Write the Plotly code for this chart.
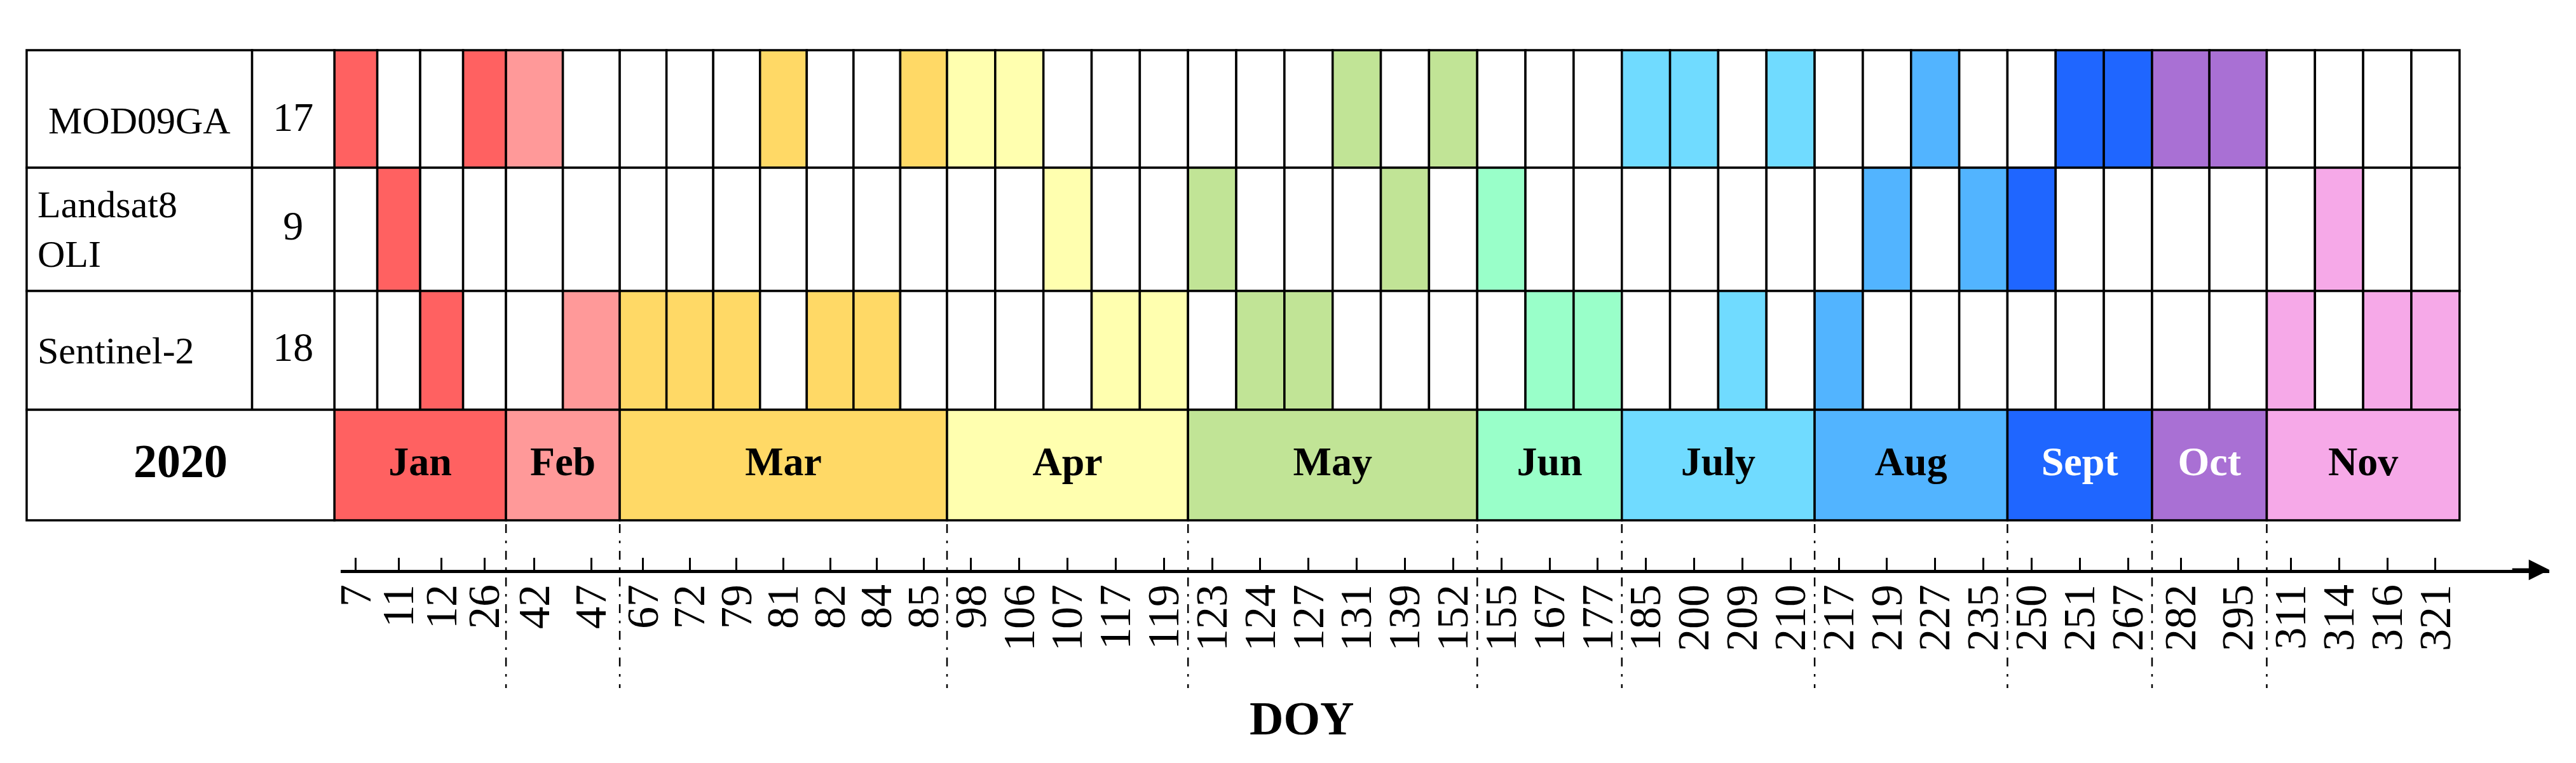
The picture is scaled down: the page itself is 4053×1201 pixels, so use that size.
import plotly.graph_objects as go

# acquisition dates (day of year, 2020) used as columns of the table
doy = [7, 11, 12, 26, 42, 47, 67, 72, 79, 81, 82, 84, 85, 98, 106, 107, 117, 119,
       123, 124, 127, 131, 139, 152, 155, 167, 177, 185, 200, 209, 210, 217, 219,
       227, 235, 250, 251, 267, 282, 295, 311, 314, 316, 321]
months = ['Jan', 'Feb', 'Mar', 'Apr', 'May', 'Jun', 'July', 'Aug', 'Sept', 'Oct', 'Nov']
month_ncols = [4, 2, 7, 5, 6, 3, 4, 4, 3, 2, 4]

sensors = ['MOD09GA', 'Landsat8<br>OLI', 'Sentinel-2']
mod09ga_doy = [7, 26, 42, 81, 85, 98, 106, 131, 152, 185, 200, 210, 227, 251, 267, 282, 295]
landsat8_doy = [11, 107, 123, 139, 155, 219, 235, 250, 314]
sentinel2_doy = [12, 47, 67, 72, 79, 82, 84, 117, 119, 124, 127, 167, 177, 209, 217, 311, 316, 321]
year = '2020'

# ---- styles / geometry ----
month_colors = ['#FF6161', '#FF9999', '#FFD966', '#FFFFAF', '#C1E496', '#99FFC9',
                '#70DBFF', '#52B4FF', '#1F66FF', '#A970D4', '#F6A9E8']
month_text_colors = ['black'] * 8 + ['white', 'white', 'black']
# relative width of one DOY cell in each month (the original table is not uniform)
month_cell_w = [0.89, 1.18, 0.97, 1, 1, 1, 1, 1, 1, 1.19, 1]
# row heights in px, bottom (month row) to top (MOD09GA row)
row_h = [174, 187, 194, 185]
row_text_shift = [0, 0, 0, -18]
FONT = 'Liberation Serif, Times New Roman, serif'
LINE = dict(color='black', width=3.5)
OFF = 8                      # page body margin
W, H = 4053 - OFF, 1201 - OFF
PX_X = 76.12                 # pixels per unit cell width
X0 = 513 - OFF               # left edge of the first DOY cell
Y0 = 819 - OFF               # bottom edge of the table (y axis is in px above it)
LABEL_W = 356 / PX_X         # sensor-name column
COUNT_W = 130 / PX_X         # count column

col_w, col_month = [], []
for m, n, cw in zip(months, month_ncols, month_cell_w):
    col_w += [cw] * n
    col_month += [m] * n
edges = [sum(col_w[:i]) for i in range(len(col_w) + 1)]
cx = [(a + b) / 2 for a, b in zip(edges[:-1], edges[1:])]
month_color = dict(zip(months, month_colors))
row_base = [sum(row_h[:i]) for i in range(len(row_h))]
row_mid = [b + h / 2 for b, h in zip(row_base, row_h)]

fig = go.Figure()

# sensor rows (top to bottom)
for k, days in enumerate([mod09ga_doy, landsat8_doy, sentinel2_doy]):
    r = 3 - k
    fig.add_trace(go.Bar(
        x=cx, y=[row_h[r]] * len(cx), base=row_base[r], width=col_w,
        marker=dict(color=[month_color[m] if d in days else 'white'
                           for d, m in zip(doy, col_month)], line=LINE),
        hoverinfo='skip', showlegend=False))

# month row
starts = [sum(month_ncols[:i]) for i in range(len(months))]
m_left = [edges[s] for s in starts]
m_right = [edges[s + n] for s, n in zip(starts, month_ncols)]
mx = [(a + b) / 2 for a, b in zip(m_left, m_right)]
fig.add_trace(go.Bar(
    x=mx, y=[row_h[0]] * len(months), base=0, width=[b - a for a, b in zip(m_left, m_right)],
    marker=dict(color=month_colors, line=LINE), hoverinfo='skip', showlegend=False))
fig.add_trace(go.Scatter(
    x=mx, y=[row_mid[0]] * len(months), mode='text', text=months,
    textfont=dict(family=FONT, size=64, color=month_text_colors, weight='bold'),
    hoverinfo='skip', showlegend=False))

# left-hand cells
xl = -COUNT_W - LABEL_W / 2
xc = -COUNT_W / 2
xm = -(COUNT_W + LABEL_W) / 2
fig.add_trace(go.Bar(
    x=[xl] * 3 + [xc] * 3 + [xm], y=row_h[3:0:-1] * 2 + [row_h[0]],
    base=row_base[3:0:-1] * 2 + [0],
    width=[LABEL_W] * 3 + [COUNT_W] * 3 + [LABEL_W + COUNT_W],
    marker=dict(color='white', line=LINE), hoverinfo='skip', showlegend=False))

counts = [str(len(d)) for d in [mod09ga_doy, landsat8_doy, sentinel2_doy]]
fig.add_trace(go.Scatter(
    x=[xc] * 3, y=[row_mid[r] + row_text_shift[r] for r in (3, 2, 1)], mode='text', text=counts,
    textfont=dict(family=FONT, size=64, color='black'),
    hoverinfo='skip', showlegend=False))
fig.add_trace(go.Scatter(
    x=[xm], y=[row_mid[0]], mode='text', text=[year],
    textfont=dict(family=FONT, size=74, color='black', weight='bold'),
    hoverinfo='skip', showlegend=False))

left_edge = -COUNT_W - LABEL_W
for k, name in enumerate(sensors):
    r = 3 - k
    centered = k == 0
    fig.add_annotation(
        x=xl if centered else left_edge + 0.2, y=row_mid[r] + row_text_shift[r],
        xref='x', yref='y', text=name, showarrow=False,
        xanchor='center' if centered else 'left', align='left',
        font=dict(family=FONT, size=60, color='black'))

# dash-dot month separators below the table
bx, by = [], []
for b in m_left[1:]:
    bx += [b, b, None]
    by += [-6, -264, None]
fig.add_trace(go.Scatter(
    x=bx, y=by, mode='lines', line=dict(color='black', width=2.5, dash='14px,12px,4px,12px'),
    hoverinfo='skip', showlegend=False))

# DOY axis (separate axis, same scale as the table columns)
ax_l, ax_r, ax_y = 523 - OFF, 4011 - OFF, 897 - OFF
x2_range = [(ax_l - X0) / PX_X, (ax_r - X0) / PX_X]
fig.add_trace(go.Scatter(x=cx, y=[None] * len(cx), xaxis='x2', yaxis='y2',
                         mode='markers', hoverinfo='skip', showlegend=False))
fig.add_annotation(x=x2_range[1], y=0, xref='x2', yref='y2', ax=-60, ay=0,
                   text='', showarrow=True, arrowhead=2, arrowsize=1.3,
                   arrowwidth=5, arrowcolor='black')
fig.add_annotation(x=(2041 - OFF) / W, y=1 - (1131 - OFF) / H, xref='paper', yref='paper',
                   xanchor='center', yanchor='middle', text='<b>DOY</b>', showarrow=False,
                   font=dict(family=FONT, size=74, color='black'))

fig.update_layout(
    width=W, height=H, margin=dict(l=0, r=0, t=0, b=0),
    paper_bgcolor='white', plot_bgcolor='rgba(0,0,0,0)', barmode='overlay',
    xaxis=dict(range=[-X0 / PX_X, (W - X0) / PX_X], visible=False),
    yaxis=dict(range=[-(H - Y0), Y0], visible=False),
    xaxis2=dict(domain=[ax_l / W, ax_r / W], anchor='y2', range=x2_range,
                showline=True, linewidth=5, linecolor='black', showgrid=False,
                zeroline=False, ticks='inside', ticklen=19, tickwidth=3, tickcolor='black',
                tickvals=cx, ticktext=[str(d) for d in doy], tickangle=-90,
                ticklabelstandoff=-10,
                tickfont=dict(family=FONT, size=70, color='black')),
    yaxis2=dict(domain=[1 - ax_y / H, 1], range=[0, 1], visible=False),
)

fig.write_html('out.html')
